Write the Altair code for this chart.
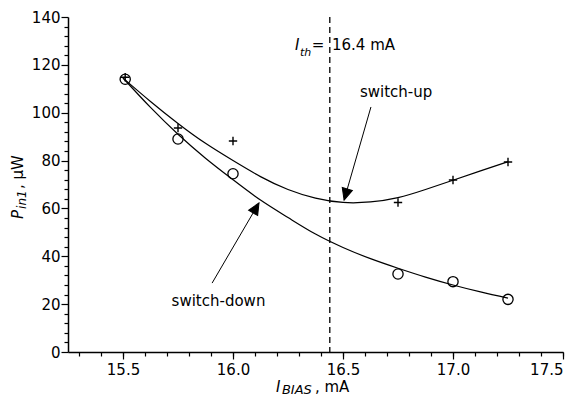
import math
import altair as alt
import pandas as pd

# ---------------- data ----------------
# measured points (switch-down: circles, switch-up: pluses)
down_x = [15.51, 15.75, 16.0, 16.75, 17.0, 17.25]
down_y = [114.0, 89.0, 74.5, 32.6, 29.4, 22.0]
up_x = [15.51, 15.75, 16.0, 16.75, 17.0, 17.25]
up_y = [114.8, 93.6, 88.2, 62.5, 71.9, 79.4]

# fitted curves
curve_x = [15.5, 15.625, 15.75, 15.875, 16.0, 16.125, 16.25, 16.375,
           16.5, 16.625, 16.75, 16.875, 17.0, 17.125, 17.25]
up_fit = [114.5, 104.7, 95.5, 87.2, 80.0, 73.3, 67.9, 64.3,
          62.5, 62.7, 64.5, 67.9, 71.8, 75.7, 79.5]
down_fit = [114.5, 102.2, 91.0, 81.0, 72.0, 63.5, 56.2, 49.3,
            43.7, 39.0, 35.0, 31.3, 28.0, 25.1, 22.5]

# threshold current
ith = [16.44]

# arrows: tail -> tip
arrow_name = ["switch-up", "switch-down"]
arrow_x = [16.627, 15.905]
arrow_y = [102.4, 28.8]
arrow_x2 = [16.505, 16.118]
arrow_y2 = [63.5, 62.3]

# labels of arrows
label_text = ["switch-up", "switch-down"]
label_x = [16.577, 15.721]
label_y = [106.6, 19.2]

# axis ticks
x_major = [15.5, 16.0, 16.5, 17.0, 17.5]
x_minor = [15.3, 15.4, 15.5, 15.6, 15.7, 15.8, 15.9, 16.0, 16.1, 16.2, 16.3,
           16.4, 16.5, 16.6, 16.7, 16.8, 16.9, 17.0, 17.1, 17.2, 17.3, 17.4, 17.5]
y_major = [0, 20, 40, 60, 80, 100, 120, 140]
y_minor = [4, 8, 12, 16, 24, 28, 32, 36, 44, 48, 52, 56, 64, 68, 72, 76,
           84, 88, 92, 96, 104, 108, 112, 116, 124, 128, 132, 136]

# ---------------- chart ----------------
W, H = 495, 335
X_DOM = [15.25, 17.5]
Y_DOM = [0, 140]
FONT = "DejaVu Sans"

xs = alt.Scale(domain=X_DOM, nice=False, zero=False)
ys = alt.Scale(domain=Y_DOM, nice=False, zero=False)

axis_common = dict(grid=False, title=None, tickColor="black", domainColor="black",
                   labelColor="black", labelFont=FONT, labelFontSize=15)

major_x = alt.Axis(values=x_major, format=".1f", orient="bottom", tickSize=7,
                   tickWidth=1.2, labelPadding=3, domainWidth=1.5, **axis_common)
minor_x = alt.Axis(values=x_minor, orient="bottom", tickSize=4, tickWidth=1.2,
                   labels=False, domain=False, **axis_common)
major_y = alt.Axis(values=y_major, format="d", orient="left", tickSize=7,
                   tickWidth=1.2, labelPadding=1, domainWidth=1.5, **axis_common)
minor_y = alt.Axis(values=y_minor, orient="left", tickSize=4, tickWidth=1.2,
                   labels=False, domain=False, **axis_common)

curve_df = pd.DataFrame({
    "x": curve_x + curve_x,
    "y": up_fit + down_fit,
    "s": ["up"] * len(curve_x) + ["down"] * len(curve_x),
})
down_df = pd.DataFrame({"x": down_x, "y": down_y})
up_df = pd.DataFrame({"x": up_x, "y": up_y})
ith_df = pd.DataFrame({"x": ith})

px_x = W / (X_DOM[1] - X_DOM[0])
px_y = H / (Y_DOM[1] - Y_DOM[0])
angles = []
for x1, y1, x2, y2 in zip(arrow_x, arrow_y, arrow_x2, arrow_y2):
    dxp = (x2 - x1) * px_x
    dyp = -(y2 - y1) * px_y
    angles.append(math.degrees(math.atan2(dxp, -dyp)) % 360)
arrow_df = pd.DataFrame({"name": arrow_name, "x": arrow_x, "y": arrow_y,
                         "x2": arrow_x2, "y2": arrow_y2, "angle": angles})
label_df = pd.DataFrame({"text": label_text, "x": label_x, "y": label_y})


def X(field="x", axis=None):
    return alt.X(f"{field}:Q", scale=xs, axis=axis)


def Y(field="y", axis=None):
    return alt.Y(f"{field}:Q", scale=ys, axis=axis)


curves = alt.Chart(curve_df).mark_line(
    color="black", strokeWidth=1.2, interpolate="natural"
).encode(x=X(axis=major_x), y=Y(axis=major_y), detail="s:N")

minor = alt.Chart(down_df).mark_point(opacity=0).encode(
    x=X(axis=minor_x), y=Y(axis=minor_y))

circles = alt.Chart(down_df).mark_point(
    shape="circle", size=105, filled=False, color="black", strokeWidth=1.3, opacity=1
).encode(x=X(), y=Y())

pluses = alt.Chart(up_df).mark_point(
    shape="M-1,0L1,0M0,-1L0,1", size=70, filled=False, color="black",
    strokeWidth=1.4, opacity=1
).encode(x=X(), y=Y())

dashed = alt.Chart(ith_df).mark_rule(
    color="black", strokeWidth=1.3, strokeDash=[6, 4]
).encode(x=X())

arrow_lines = alt.Chart(arrow_df).mark_rule(color="black", strokeWidth=1).encode(
    x=X(), y=Y(), x2="x2:Q", y2="y2:Q")

arrow_heads = alt.Chart(arrow_df).mark_point(
    shape="M0,0L-1,2.2L1,2.2Z", size=110, filled=True, fill="black",
    stroke="black", strokeWidth=1, opacity=1, fillOpacity=1
).encode(x=X("x2"), y=Y("y2"), angle=alt.Angle("angle:Q", scale=None))

labels = alt.Chart(label_df).mark_text(
    font=FONT, fontSize=15, align="left", baseline="alphabetic", color="black"
).encode(x=X(), y=Y(), text="text:N")


def piece(text, x, y, size, dx=0, dy=0, italic=False, align="left", angle=0):
    kw = dict(font=FONT, fontSize=size, align=align, baseline="alphabetic",
              color="black", dx=dx, dy=dy)
    if italic:
        kw["fontStyle"] = "italic"
    if angle:
        kw["angle"] = angle
    df = pd.DataFrame({"x": [x], "y": [y], "t": [text]})
    return alt.Chart(df).mark_text(**kw).encode(x=X(), y=Y(), text="t:N")


# threshold label  I_th = 16.4 mA
ith_label = [
    piece("16.4 mA", 16.45, 126.2, 15),
    piece("=", 16.45, 126.2, 15, dx=-14, align="center"),
    piece("th", 16.45, 126.2, 11, dx=-32, dy=6, italic=True),
    piece("I", 16.45, 126.2, 15, dx=-37, italic=True),
]

# x title  I_BIAS, mA
x_title = [
    piece("I", 16.195, -16.7, 15, italic=True),
    piece("BIAS", 16.195, -16.7, 13, dx=6, dy=2, italic=True),
    piece(", mA", 16.195, -16.7, 15, dx=39),
]

# y title  P_in1, µW
y_title = [
    piece("P", 15.045, 55.6, 15, italic=True, angle=270),
    piece("in1", 15.045, 55.6, 12, dx=10, dy=3, italic=True, angle=270),
    piece(", µW", 15.045, 55.6, 15, dx=30, angle=270),
]

chart = alt.layer(
    curves, minor, dashed, circles, pluses, arrow_lines, arrow_heads, labels,
    *ith_label, *x_title, *y_title
).resolve_axis(x="independent", y="independent").properties(
    width=W, height=H,
    autosize=alt.AutoSizeParams(type="none"),
    padding={"left": 60, "top": 9, "right": 15, "bottom": 45},
    background="white",
).configure_view(strokeWidth=0)

chart.save("out.html", embed_options={"renderer": "svg", "actions": False})
